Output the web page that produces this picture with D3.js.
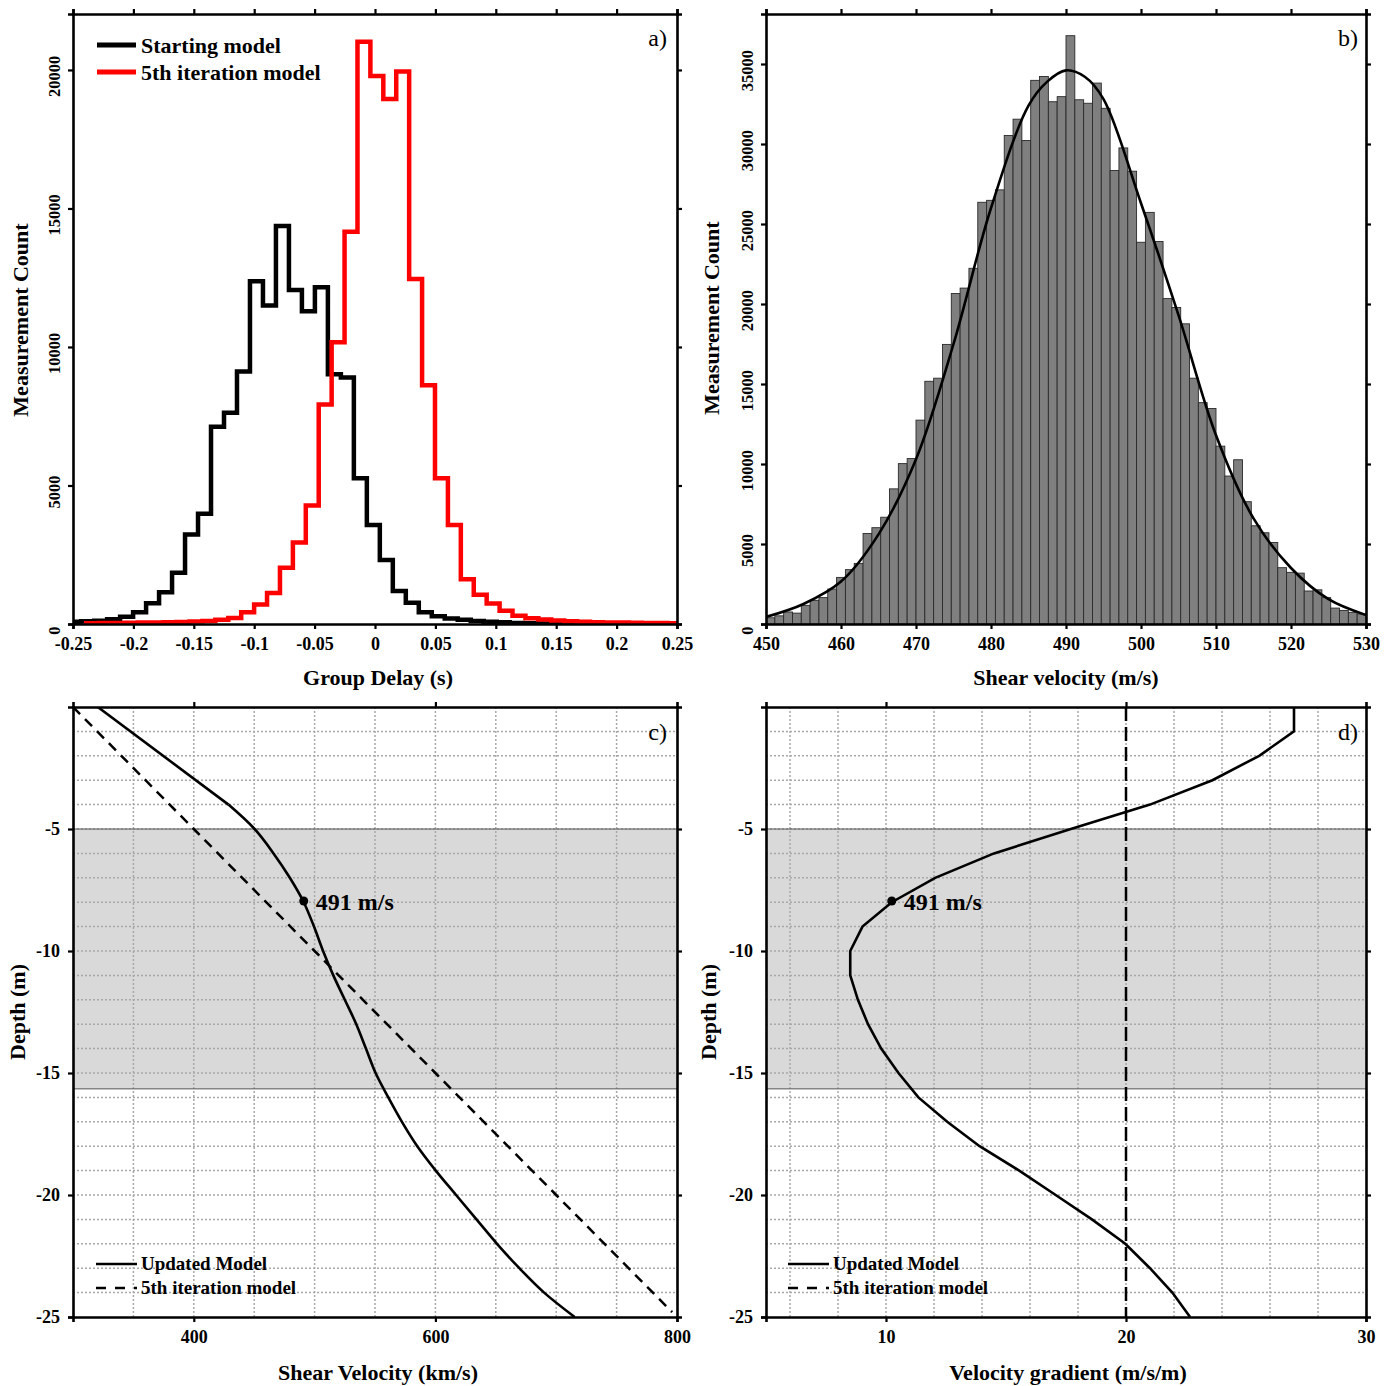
<!DOCTYPE html>
<html><head><meta charset="utf-8">
<script src="https://cdn.jsdelivr.net/npm/d3@7"></script>
<style>
body{margin:0;background:#fff;}
svg text{font-family:"Liberation Serif","Times New Roman",serif;}
</style></head>
<body><svg id="c" width="1394" height="1386"></svg>
<script>
// ---------- Panel a: group delay histograms ----------
const groupDelayTicks = [-0.25,-0.2,-0.15,-0.1,-0.05,0,0.05,0.1,0.15,0.2,0.25];
const groupDelayTickLabels = ["-0.25","-0.2","-0.15","-0.1","-0.05","0","0.05","0.1","0.15","0.2","0.25"];
const countTicksA = [0,5000,10000,15000,20000];
const startBinStart = -0.2540, startBinWidth = 0.01075;
const startingCounts = [80,96,120,170,265,420,750,1145,1850,3230,3980,7120,7630,9115,12370,11500,14370,12060,11290,12160,9015,8900,5260,3575,2310,1190,770,420,280,200,150,110,80,60,40,25,15,8,5,3,2];
const iterBinStart = -0.2391, iterBinWidth = 0.010695;
const iter5Counts = [30,35,40,45,50,55,65,75,90,110,150,220,420,700,1120,2030,2940,4280,7920,10170,14160,21020,19780,18950,19940,12450,8620,5260,3575,1612,1052,740,480,300,210,160,125,100,80,65,55,50,45,40,35,30];

// ---------- Panel b: shear velocity histogram ----------
const velTicks = [450,460,470,480,490,500,510,520,530];
const countTicksB = [0,5000,10000,15000,20000,25000,30000,35000];
const velBinStart = 450, velBinWidth = 1.17647;
const velCounts = [388,510,752,680,1165,1480,1650,2184,2912,3398,3786,5655,6019,6674,8446,10024,10339,12742,15169,15363,17474,20654,20994,
 22231,26357,26479,27134,30532,31551,30216,33978,34221,32643,32959,36769,32765,32546,33808,32231,28347,29755,28299,23858,25726,
 23906,20338,19780,18761,15363,13834,13470,11116,9247,10266,7645,6140,5703,5097,3519,3228,3180,2063,2136,1650,995,850,728,631];
const fitVel = [450,455,460,465,470,475,480,485,487.5,490,492.5,495,500,505,510,515,520,525,530];
const fitCount = [440,1250,2650,5600,10300,17500,26000,32400,33900,34600,34200,32800,26300,19300,11800,6600,3500,1550,560];

// ---------- Panel c: shear velocity profiles ----------
const depthTicks = [-5,-10,-15,-20,-25];
const shearTicks = [400,600,800];
const updDepthTop = [0,-4];
const updVelTop   = [320.5,428.7];
const updDepth = [-4,-5,-6,-7,-8,-9,-10,-11,-12,-13,-14,-15,-16,-17,-18,-19,-20,-21,-22,-23,-24,-25];
const updVel   = [428.7,450.3,466,479.5,491,499.5,507,515.5,525,534.5,542.5,550.5,561,572.3,585,600.3,617.1,634,651,669.5,690,715.3];
const iterDepth = [0,-5,-10,-15,-20,-24.8];
const iterVel   = [300,400,500,600,700,796];
const markDepth = -7.95, markVel = 491, markLabel = "491 m/s";
const shadeTop = -5, shadeBottom = -15.65;

// ---------- Panel d: velocity gradient ----------
const gradTicks = [10,20,30];
const gradDepth = [0,-1,-2,-3,-4,-5,-6,-7,-8,-9,-10,-11,-12,-13,-14,-15,-16,-17,-18,-19,-20,-21,-22,-23,-24,-25];
const gradVal   = [27.0,27.0,25.55,23.6,21.0,17.7,14.5,12.05,10.24,9.02,8.51,8.51,8.83,9.25,9.8,10.52,11.35,12.55,13.9,15.55,17.07,18.58,19.97,21.0,21.93,22.67];
const iterGrad = 20;
const markGrad = 10.24;

const svg = d3.select("#c");
function styleAxis(g, size){
  g.select(".domain").attr("stroke","#000").attr("stroke-width",2.6);
  g.selectAll(".tick line").attr("stroke","#000").attr("stroke-width",2.2);
  g.selectAll(".tick text").attr("font-size",size||18).attr("font-weight","bold").attr("fill","#000")
    .attr("font-family",'"Liberation Serif","Times New Roman",serif');
}
function clip(id,x0,y0,x1,y1){
  svg.append("clipPath").attr("id",id).append("rect").attr("x",x0).attr("y",y0).attr("width",x1-x0).attr("height",y1-y0);
}
function text(x,y,str,opts){
  const t = svg.append("text").attr("x",x).attr("y",y).text(str)
    .attr("font-size",opts.size||20).attr("font-weight",opts.weight||"bold")
    .attr("text-anchor",opts.anchor||"middle").attr("fill","#000");
  if(opts.rotate) t.attr("transform",`rotate(-90,${x},${y})`);
  return t;
}
function frame(x,y,X0,X1,Y0,Y1,xt,xl,yt,yl,topTicks,rightTicks,rotY){
  const b = svg.append("g").attr("transform",`translate(0,${Y1})`)
    .call(d3.axisBottom(x).tickValues(xt).tickFormat((d,i)=>xl[i]).tickSizeOuter(0).tickSize(5).tickPadding(8));
  styleAxis(b,18);
  const t = svg.append("g").attr("transform",`translate(0,${Y0})`)
    .call(d3.axisTop(x).tickValues(topTicks).tickFormat("").tickSizeOuter(0).tickSize(5));
  styleAxis(t);
  const l = svg.append("g").attr("transform",`translate(${X0},0)`)
    .call(d3.axisLeft(y).tickValues(yt).tickFormat((d,i)=>yl[i]).tickSizeOuter(0).tickSize(5).tickPadding(8));
  styleAxis(l, rotY?16.5:18);
  if(rotY){
    l.selectAll(".tick text").attr("transform","rotate(-90)").attr("x",-6).attr("y",-13)
      .attr("dy","0").attr("text-anchor","middle");
  }
  const r = svg.append("g").attr("transform",`translate(${X1},0)`)
    .call(d3.axisRight(y).tickValues(rightTicks).tickFormat("").tickSizeOuter(0).tickSize(5));
  styleAxis(r);
}

// ===== Panel a =====
{
  const X0=73,X1=677,Y0=14,Y1=624;
  const x = d3.scaleLinear([-0.25,0.25],[X0,X1]);
  const y = d3.scaleLinear([0,22020],[Y1,Y0]);
  clip("clipA",X0,Y0,X1,Y1);
  function steps(start,w,counts){
    const p=[[start,0]];
    counts.forEach((c,i)=>{p.push([start+i*w,c]);p.push([start+(i+1)*w,c]);});
    p.push([start+counts.length*w,0]);
    return p;
  }
  const line = d3.line().x(d=>x(d[0])).y(d=>y(d[1]));
  const g = svg.append("g").attr("clip-path","url(#clipA)");
  g.append("path").attr("d",line(steps(startBinStart,startBinWidth,startingCounts)))
    .attr("fill","none").attr("stroke","#000").attr("stroke-width",4.5).attr("stroke-linejoin","miter");
  g.append("path").attr("d",line(steps(iterBinStart,iterBinWidth,iter5Counts)))
    .attr("fill","none").attr("stroke","#ff0000").attr("stroke-width",4.5).attr("stroke-linejoin","miter");
  frame(x,y,X0,X1,Y0,Y1,groupDelayTicks,groupDelayTickLabels,countTicksA,countTicksA.map(String),groupDelayTicks,countTicksA,true);
  svg.append("line").attr("x1",97).attr("x2",136).attr("y1",45).attr("y2",45).attr("stroke","#000").attr("stroke-width",5);
  svg.append("line").attr("x1",97).attr("x2",136).attr("y1",72).attr("y2",72).attr("stroke","#ff0000").attr("stroke-width",5);
  text(141,53,"Starting model",{anchor:"start",size:22});
  text(141,80,"5th iteration model",{anchor:"start",size:22});
  text(667,46,"a)",{anchor:"end",size:24,weight:"normal"});
  text(378,685,"Group Delay (s)",{size:22});
  text(28,320,"Measurement Count",{size:22,rotate:true});
}

// ===== Panel b =====
{
  const X0=766,X1=1366,Y0=14,Y1=624;
  const x = d3.scaleLinear([450,530],[X0,X1]);
  const y = d3.scaleLinear([0,38125],[Y1,Y0]);
  clip("clipB",X0,Y0,X1,Y1);
  const g = svg.append("g").attr("clip-path","url(#clipB)");
  g.selectAll("rect").data(velCounts).join("rect")
    .attr("x",(d,i)=>x(velBinStart+i*velBinWidth))
    .attr("width",x(velBinStart+velBinWidth)-x(velBinStart))
    .attr("y",d=>y(d)).attr("height",d=>y(0)-y(d))
    .attr("fill","#7f7f7f").attr("stroke","#2a2a2a").attr("stroke-width",0.9);
  const fit = fitVel.map((v,i)=>[v,fitCount[i]]);
  g.append("path").attr("d",d3.line().x(d=>x(d[0])).y(d=>y(d[1])).curve(d3.curveCatmullRom)(fit))
    .attr("fill","none").attr("stroke","#000").attr("stroke-width",2.6);
  frame(x,y,X0,X1,Y0,Y1,velTicks,velTicks.map(String),countTicksB,countTicksB.map(String),velTicks,countTicksB,true);
  text(1358,46,"b)",{anchor:"end",size:24,weight:"normal"});
  text(1066,685,"Shear velocity (m/s)",{size:22});
  text(719,318,"Measurement Count",{size:22,rotate:true});
}

function profilePanel(opts){
  const {X0,X1,Y0,Y1,x,y,gridX} = opts;
  const gridY = d3.range(-1,-25,-1);
  clip(opts.id,X0,Y0,X1,Y1);
  const g = svg.append("g").attr("clip-path",`url(#${opts.id})`);
  g.append("rect").attr("x",X0).attr("width",X1-X0).attr("y",y(shadeTop)).attr("height",y(shadeBottom)-y(shadeTop))
    .attr("fill","#d9d9d9");
  g.selectAll(".gx").data(gridX).join("line").attr("x1",d=>x(d)).attr("x2",d=>x(d)).attr("y1",Y0).attr("y2",Y1)
    .attr("stroke","#a8a8a8").attr("stroke-width",1.5).attr("stroke-dasharray","2,2");
  g.selectAll(".gy").data(gridY).join("line").attr("y1",d=>y(d)).attr("y2",d=>y(d)).attr("x1",X0).attr("x2",X1)
    .attr("stroke","#a8a8a8").attr("stroke-width",1.5).attr("stroke-dasharray","2,2");
  [shadeTop,shadeBottom].forEach(d=>{
    g.append("line").attr("x1",X0).attr("x2",X1).attr("y1",y(d)).attr("y2",y(d)).attr("stroke","#555").attr("stroke-width",1);
  });
  return g;
}

// ===== Panel c =====
{
  const X0=73,X1=677,Y0=707,Y1=1317;
  const x = d3.scaleLinear([300,800],[X0,X1]);
  const y = d3.scaleLinear([-25,0],[Y1,Y0]);
  const g = profilePanel({id:"clipC",X0,X1,Y0,Y1,x,y,gridX:d3.range(350,800,50)});
  const line = d3.line().x(d=>x(d[0])).y(d=>y(d[1]));
  const smooth = d3.line().x(d=>x(d[0])).y(d=>y(d[1])).curve(d3.curveCatmullRom.alpha(0.5));
  g.append("path").attr("d",line(iterVel.map((v,i)=>[v,iterDepth[i]])))
    .attr("fill","none").attr("stroke","#000").attr("stroke-width",2.5).attr("stroke-dasharray","10,7");
  g.append("path").attr("d",line(updVelTop.map((v,i)=>[v,updDepthTop[i]])))
    .attr("fill","none").attr("stroke","#000").attr("stroke-width",2.6);
  g.append("path").attr("d",smooth(updVel.map((v,i)=>[v,updDepth[i]])))
    .attr("fill","none").attr("stroke","#000").attr("stroke-width",2.6);
  svg.append("circle").attr("cx",x(markVel)).attr("cy",y(markDepth)).attr("r",4.5).attr("fill","#000");
  text(x(markVel)+12,y(markDepth)+9,markLabel,{anchor:"start",size:24});
  frame(x,y,X0,X1,Y0,Y1,shearTicks,shearTicks.map(String),depthTicks,depthTicks.map(String),[400,600],[-5,-10,-15,-20]);
  svg.append("line").attr("x1",96).attr("x2",137).attr("y1",1264).attr("y2",1264).attr("stroke","#000").attr("stroke-width",2.5);
  svg.append("line").attr("x1",96).attr("x2",137).attr("y1",1288).attr("y2",1288).attr("stroke","#000").attr("stroke-width",2.5).attr("stroke-dasharray","10,9");
  text(141,1270,"Updated Model",{anchor:"start",size:19});
  text(141,1294,"5th iteration model",{anchor:"start",size:19});
  text(667,740,"c)",{anchor:"end",size:24,weight:"normal"});
  text(378,1380,"Shear Velocity (km/s)",{size:22});
  text(25,1012,"Depth (m)",{size:22,rotate:true});
}

// ===== Panel d =====
{
  const X0=766,X1=1366,Y0=707,Y1=1317;
  const x = d3.scaleLinear([5,30],[X0,X1]);
  const y = d3.scaleLinear([-25,0],[Y1,Y0]);
  const g = profilePanel({id:"clipD",X0,X1,Y0,Y1,x,y,gridX:d3.range(6,30,2)});
  g.append("line").attr("x1",x(iterGrad)).attr("x2",x(iterGrad)).attr("y1",Y0).attr("y2",Y1)
    .attr("stroke","#000").attr("stroke-width",2.5).attr("stroke-dasharray","14,6");
  const line = d3.line().x(d=>x(d[0])).y(d=>y(d[1]));
  g.append("path").attr("d",line(gradVal.map((v,i)=>[v,gradDepth[i]])))
    .attr("fill","none").attr("stroke","#000").attr("stroke-width",2.6);
  svg.append("circle").attr("cx",x(markGrad)).attr("cy",y(markDepth)).attr("r",4.5).attr("fill","#000");
  text(x(markGrad)+12,y(markDepth)+9,markLabel,{anchor:"start",size:24});
  frame(x,y,X0,X1,Y0,Y1,gradTicks,gradTicks.map(String),depthTicks,depthTicks.map(String),[10,20],[-5,-10,-15,-20]);
  svg.append("line").attr("x1",788).attr("x2",829).attr("y1",1264).attr("y2",1264).attr("stroke","#000").attr("stroke-width",2.5);
  svg.append("line").attr("x1",788).attr("x2",829).attr("y1",1288).attr("y2",1288).attr("stroke","#000").attr("stroke-width",2.5).attr("stroke-dasharray","10,9");
  text(833,1270,"Updated Model",{anchor:"start",size:19});
  text(833,1294,"5th iteration model",{anchor:"start",size:19});
  text(1358,740,"d)",{anchor:"end",size:24,weight:"normal"});
  text(1068,1380,"Velocity gradient (m/s/m)",{size:22});
  text(716,1012,"Depth (m)",{size:22,rotate:true});
}
</script></body></html>
